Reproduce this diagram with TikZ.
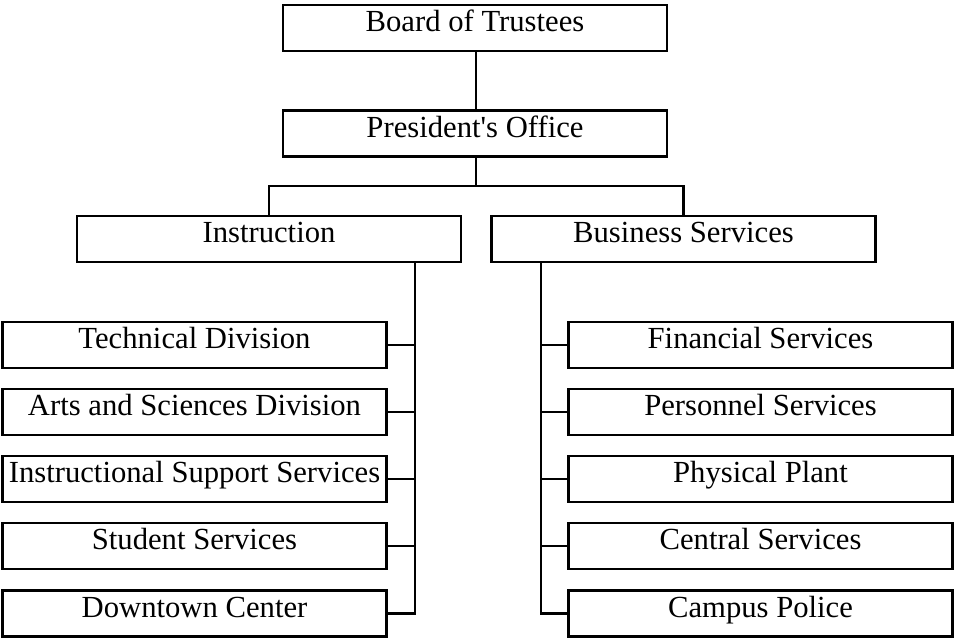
\documentclass[tikz,border=0pt]{standalone}
\usepackage{fontspec}
\setmainfont{Liberation Serif}

\tikzset{
    orgbox/.style={draw, line width=1.6pt, minimum width=288pt, inner xsep=0pt, inner ysep=0pt,
        text height=20pt, text depth=14.5pt, font=\fontsize{23}{27}\selectfont},
    orgline/.style={line width=1.6pt}
}

\begin{document}
\begin{tikzpicture}[x=0.75pt,y=0.75pt,yscale=-1,xscale=1]
\useasboundingbox (0,0) rectangle (955,640);

%Rect [id:board]
    \node (board) at (475,28) [orgbox] {Board of Trustees};
%Rect [id:president]
    \node (president) at (475,133.5) [orgbox] {President\textquotesingle s Office};
%Rect [id:instruction]
    \node (instruction) at (269,239) [orgbox] {Instruction};
%Rect [id:business]
    \node (business) at (683.5,239) [orgbox] {Business Services};

%Rect [id:technical]
    \node (technical) at (194.5,345) [orgbox] {Technical Division};
%Rect [id:arts]
    \node (arts) at (194.5,412) [orgbox] {Arts and Sciences Division};
%Rect [id:support]
    \node (support) at (194.5,479) [orgbox] {Instructional Support Services};
%Rect [id:student]
    \node (student) at (194.5,546) [orgbox] {Student Services};
%Rect [id:downtown]
    \node (downtown) at (194.5,613.5) [orgbox] {Downtown Center};

%Rect [id:financial]
    \node (financial) at (760.5,345) [orgbox] {Financial Services};
%Rect [id:personnel]
    \node (personnel) at (760.5,412) [orgbox] {Personnel Services};
%Rect [id:plant]
    \node (plant) at (760.5,479) [orgbox] {Physical Plant};
%Rect [id:central]
    \node (central) at (760.5,546) [orgbox] {Central Services};
%Rect [id:police]
    \node (police) at (760.5,613.5) [orgbox] {Campus Police};

% Connection
    \coordinate (split) at (476,186);
    \coordinate (ltop) at (415,262);
    \coordinate (rtop) at (541,262);
    \draw [orgline] (board.south -| split) -- (president.north -| split);
    \draw [orgline] (president.south -| split) -- (split);
    \draw [orgline] (instruction.north) |- (split) -| (business.north);

% Connection
    \draw [orgline] (ltop) |- (technical.east);
    \draw [orgline] (ltop) |- (arts.east);
    \draw [orgline] (ltop) |- (support.east);
    \draw [orgline] (ltop) |- (student.east);
    \draw [orgline] (ltop) |- (downtown.east);

% Connection
    \draw [orgline] (rtop) |- (financial.west);
    \draw [orgline] (rtop) |- (personnel.west);
    \draw [orgline] (rtop) |- (plant.west);
    \draw [orgline] (rtop) |- (central.west);
    \draw [orgline] (rtop) |- (police.west);

\end{tikzpicture}
\end{document}
